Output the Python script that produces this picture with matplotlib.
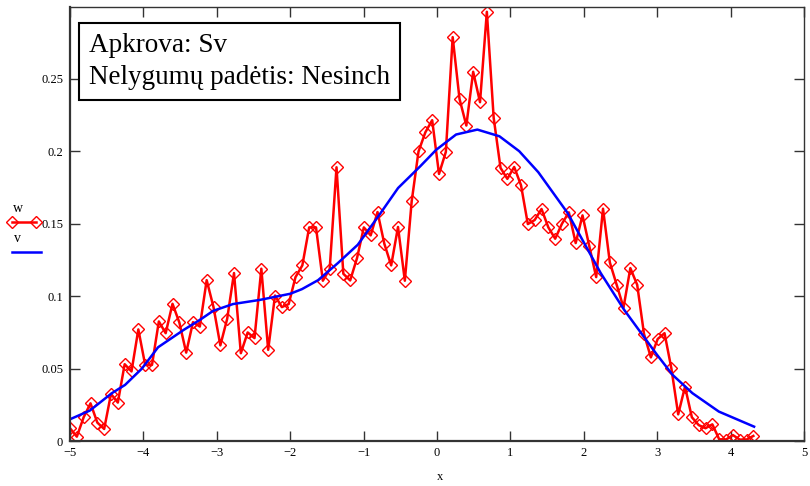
import numpy as np
import matplotlib
matplotlib.use("Agg")
import matplotlib.pyplot as plt
from matplotlib.lines import Line2D

plt.rcParams['font.family'] = ['Liberation Serif', 'DejaVu Serif']

# measured series w (101 samples from x=-5 to about 4.3)
x_w = np.linspace(-5.0, 4.31, 101)
w = [0.0088, 0.0030, 0.0164, 0.0260, 0.0127, 0.0083, 0.0325, 0.0265, 0.0530, 0.0480,
     0.0770, 0.0525, 0.0525, 0.0825, 0.0744, 0.0947, 0.0818, 0.0610, 0.0820, 0.0790,
     0.1110, 0.0924, 0.0660, 0.0843, 0.1159, 0.0606, 0.0749, 0.0710, 0.1189, 0.0629,
     0.1004, 0.0924, 0.0945, 0.1131, 0.1212, 0.1474, 0.1474, 0.1106, 0.1186, 0.1889,
     0.1154, 0.1108, 0.1262, 0.1474, 0.1419, 0.1580, 0.1361, 0.1212, 0.1477, 0.1106,
     0.1654, 0.1998, 0.2130, 0.2214, 0.1843, 0.1995, 0.2787, 0.2361, 0.2177, 0.2548,
     0.2338, 0.2962, 0.2230, 0.1885, 0.1809, 0.1891, 0.1765, 0.1497, 0.1525, 0.1601,
     0.1474, 0.1396, 0.1500, 0.1578, 0.1366, 0.1557, 0.1343, 0.1131, 0.1603, 0.1232,
     0.1078, 0.0921, 0.1193, 0.1078, 0.0739, 0.0577, 0.0704, 0.0744, 0.0502, 0.0184,
     0.0375, 0.0164, 0.0110, 0.0088, 0.0115, 0.0012, 0.0010, 0.0041, 0.0010, 0.0010,
     0.0035]

# smooth series v
x_v = [-5.0, -4.73, -4.43, -4.25, -4.02, -3.8, -3.45, -3.23, -3.05, -2.78, -2.41, -2.0,
       -1.84, -1.62, -1.35, -1.08, -0.80, -0.53, -0.23, -0.01, 0.26, 0.55, 0.85, 1.12,
       1.38, 1.78, 2.23, 2.55, 2.99, 3.21, 3.48, 3.84, 4.32]
v = [0.0150, 0.0210, 0.0330, 0.0387, 0.0500, 0.0647, 0.0767, 0.0836, 0.0898, 0.0945,
     0.0974, 0.1016, 0.1048, 0.1110, 0.1228, 0.1354, 0.1550, 0.1746, 0.1895, 0.2010,
     0.2115, 0.2149, 0.2103, 0.2000, 0.1855, 0.1573, 0.1159, 0.0905, 0.0600, 0.0456,
     0.0330, 0.0203, 0.0099]

xticks = [-5, -4, -3, -2, -1, 0, 1, 2, 3, 4, 5]
yticks = [0, 0.05, 0.1, 0.15, 0.2, 0.25]
ylabels = ['0', '0.05', '0.1', '0.15', '0.2', '0.25']

fig = plt.figure(figsize=(8.1, 4.86), dpi=100)
ax = fig.add_axes([70/810, 45/486, 734/810, 434/486])

ax.plot(x_w, w, color='red', lw=1.8, marker='D', ms=6, mfc='none', mec='red', mew=1.0)
ax.plot(x_v, v, color='blue', lw=1.8)

ax.set_xlim(-5, 5)
ax.set_ylim(0, 0.2995)
ax.set_xticks(xticks)
ax.set_xticklabels(['\u2212%d' % -t if t < 0 else '%d' % t for t in xticks])
ax.set_yticks(yticks)
ax.set_yticklabels(ylabels)
ax.tick_params(direction='in', length=7, width=1, labelsize=9, top=True, right=True,
               color='#333333', pad=4)
ax.tick_params(axis='y', pad=5)
for s in ['left', 'bottom']:
    ax.spines[s].set_linewidth(1.6)
for s in ['top', 'right']:
    ax.spines[s].set_linewidth(1.0)
for s in ax.spines.values():
    s.set_color('#333333')

ax.text(0.0255, 0.94, 'Apkrova: Sv\nNelygumų padėtis: Nesinch', transform=ax.transAxes,
        fontsize=19.5, va='top', ha='left', linespacing=1.36,
        bbox=dict(boxstyle='square,pad=0.36', fc='white', ec='black', lw=1.5))

fig.text(440/810, 1 - 477/486, 'x', fontsize=9, ha='center', va='center')

# legend at left margin
fig.text(18/810, 1 - 208/486, 'w', fontsize=10, ha='center', va='center')
fig.add_artist(Line2D([12/810, 36/810], [1 - 222/486, 1 - 222/486], color='red', lw=1.8,
                      marker='D', ms=6, mfc='none', mec='red', mew=1.0,
                      transform=fig.transFigure))
fig.text(18/810, 1 - 238/486, 'v', fontsize=10, ha='center', va='center')
fig.add_artist(Line2D([12/810, 41/810], [1 - 252/486, 1 - 252/486], color='blue', lw=1.8,
                      transform=fig.transFigure))

fig.savefig('out.png', dpi=100)
